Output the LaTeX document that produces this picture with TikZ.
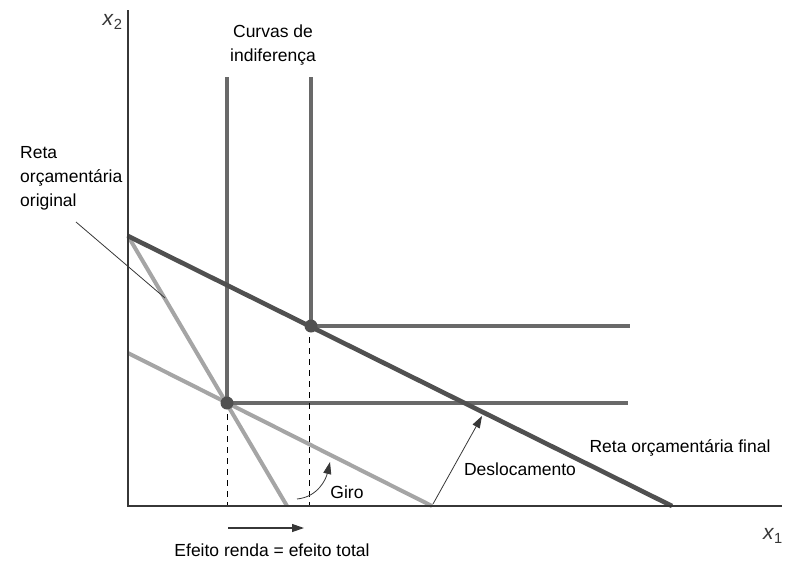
\documentclass[tikz,border=0pt]{standalone}
\usepackage{fontspec}
\setmainfont{Liberation Sans}
\usetikzlibrary{arrows.meta,positioning,calc}
\definecolor{axiscolor}{RGB}{55,55,55}
\definecolor{finalcolor}{RGB}{80,80,80}
\definecolor{curvecolor}{RGB}{105,105,105}
\definecolor{oldcolor}{RGB}{165,165,165}

\begin{document}
\begin{tikzpicture}[x=1pt, y=-1pt, font=\fontsize{17.5}{24}\selectfont,
    axis/.style={axiscolor, line width=1.6pt},
    budget/.style={line width=4pt},
    indiff/.style={curvecolor, line width=3.6pt},
    guide/.style={black, line width=0.8pt, dash pattern=on 6pt off 5pt},
    pointer/.style={axiscolor, line width=0.8pt, -{Triangle[length=12pt,width=8pt]}},
    kink/.style={circle, fill=finalcolor, minimum size=13pt, inner sep=0pt},
    axlabel/.style={font=\fontsize{21}{24}\selectfont, text=axiscolor}]
  \useasboundingbox (0,0) rectangle (787,565);
  % axes and budget-line end points
  \coordinate (O) at (128,506);
  \coordinate (top) at (128,10);
  \coordinate (xend) at (782,506);
  \coordinate (A) at (128,236);
  \coordinate (B) at (128,353);
  \coordinate (orig) at (287,506);
  \coordinate (piv) at (432,506);
  \coordinate (fin) at (672,506);
  % kinks of the two perfect-complement curves
  \coordinate (K1) at (227,403);
  \coordinate (K2) at (311,326);
  % budget lines: original, pivoted, final
  \draw[budget, oldcolor] (A) -- (orig);
  \draw[budget, oldcolor] (B) -- (piv);
  % indifference curves (L-shaped)
  \draw[indiff] (K1 |- 0,77) -- (K1) -- (628,403);
  \draw[indiff] (K2 |- 0,77) -- (K2) -- (630,326);
  \draw[budget, finalcolor, line width=4.6pt] (A) -- (fin);
  % dashed drop lines to the x1 axis
  \draw[guide] (K1) -- (K1 |- O);
  \draw[guide] ([xshift=-2pt]K2) -- ([xshift=-2pt]K2 |- O);
  \draw[axis] (top) -- (O) -- (xend);
  \node[kink] (d1) at (K1) {};
  \node[kink] (d2) at (K2) {};
  % labels
  \node[axlabel, anchor=east] (lx2) at (126,22) {\textit{x}\textsubscript{2}};
  \node[axlabel] (lx1) at (773,536) {\textit{x}\textsubscript{1}};
  \node[align=center] (curvas) at (273,45) {Curvas de\\indiferença};
  \node[align=left, anchor=north west, inner sep=0pt] (orlabel) at (20,146) {Reta\\orçamentária\\original};
  \coordinate (lead1) at (76,222);
  \coordinate (lead2) at (165,298);
  \draw[axiscolor, line width=0.8pt] (lead1) -- (lead2);
  \node (giro) at (347,492) {Giro};
  \node (desloc) at (520,469) {Deslocamento};
  \node (final) at (680,448) {Reta orçamentária final};
  \node (efeito) at (272,550) {Efeito renda = efeito total};
  % arrows
  \coordinate (g1) at (297,499);
  \coordinate (g2) at (330,462);
  \draw[pointer] (g1) .. controls (318,497) and (326,479) .. (g2);
  \coordinate (s1) at (433,504);
  \coordinate (s2) at (482,416);
  \draw[pointer] (s1) -- (s2);
  \coordinate (e1) at (228,528);
  \coordinate (e2) at (304,528);
  \draw[pointer, line width=1.2pt] (e1) -- (e2);
\end{tikzpicture}
\end{document}
